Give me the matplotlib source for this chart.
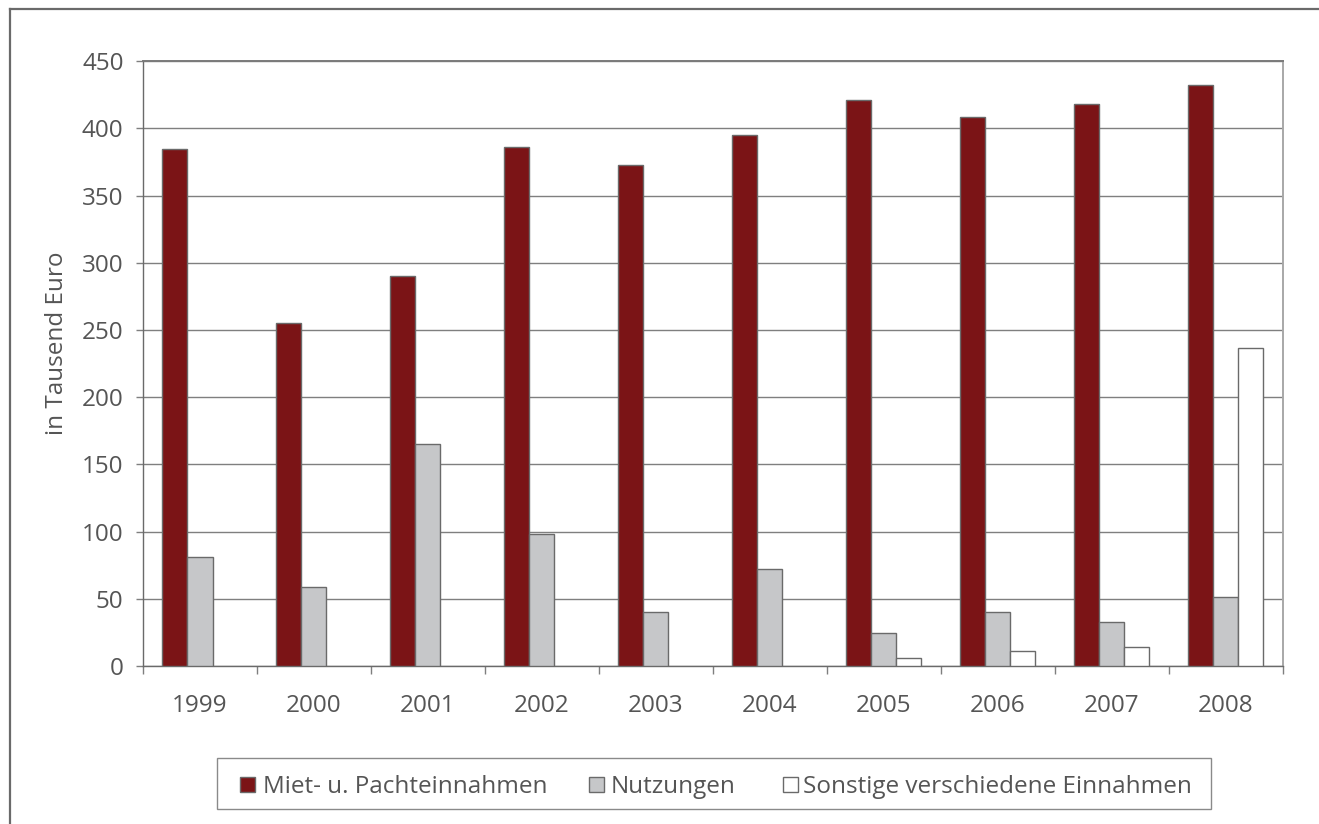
import matplotlib
matplotlib.use("Agg")
import matplotlib.pyplot as plt
import numpy as np
from matplotlib.lines import Line2D
from matplotlib.patches import Rectangle

years = ["1999", "2000", "2001", "2002", "2003", "2004", "2005", "2006", "2007", "2008"]
miet = [385, 255, 290.5, 386, 372.5, 395, 421.5, 408.5, 418.5, 432.5]
nutzungen = [81, 58.5, 165.5, 98, 40, 72, 24.5, 40.5, 32.5, 51]
sonstige = [0, 0, 0, 0, 0, 0, 5.7, 11, 14, 236.5]
series_names = ["Miet- u. Pachteinnahmen", "Nutzungen", "Sonstige verschiedene Einnahmen"]
yticks = [0, 50, 100, 150, 200, 250, 300, 350, 400, 450]

colors = ["#7B1416", "#C6C7C9", "#FFFFFF"]
edge = "#6a6a6a"
txt = "#555555"
FS = 17.5

plt.rcParams['font.family'] = ['Open Sans', 'DejaVu Sans']

W, H = 1319, 824
fig = plt.figure(figsize=(W / 100, H / 100), dpi=100)


def fx(px):
    return px / W


def fy(py):
    return 1 - py / H


ax = fig.add_axes([fx(143), fy(666), (1282.7 - 143) / W, (666 - 61.3) / H])

x = np.arange(len(years))
w = 0.22
for i, (vals, c) in enumerate(zip([miet, nutzungen, sonstige], colors)):
    v = np.array(vals, dtype=float)
    mask = v > 0
    ax.bar(x[mask] + (i - 1) * w, v[mask], width=w, color=c, edgecolor=edge,
           linewidth=1.0, zorder=3)

ax.set_xlim(-0.5, len(years) - 0.5)
ax.set_ylim(0, 450)
ax.set_yticks(yticks)
ax.set_yticklabels([str(t) for t in yticks])
ax.yaxis.grid(True, color="#7f7f7f", linewidth=1.0, zorder=0)
ax.set_axisbelow(True)

ax.set_xticks(x)
ax.set_xticklabels(years)
ax.set_xticks(np.arange(len(years) + 1) - 0.5, minor=True)
ax.tick_params(axis='x', which='major', length=0, pad=20, labelsize=FS, labelcolor=txt)
ax.tick_params(axis='x', which='minor', length=5.5, width=1, color="#7f7f7f", direction='out')
ax.tick_params(axis='y', which='major', length=5, width=1, color="#7f7f7f", pad=9,
               labelsize=FS, labelcolor=txt)

for s in ["left", "bottom"]:
    ax.spines[s].set_color("#6a6a6a")
    ax.spines[s].set_linewidth(1.0)
ax.spines["top"].set_color("#7a7a7a")
ax.spines["top"].set_linewidth(1.4)
ax.spines["right"].set_color("#a8a8a8")
ax.spines["right"].set_linewidth(1.4)

fig.text(fx(57), fy(343.5), "in Tausend Euro", rotation=90, ha='center', va='center',
         fontsize=FS, color=txt)

# legend (drawn manually to match the reference box)
fig.add_artist(Rectangle((fx(217), fy(809)), (1211 - 217) / W, (809 - 758) / H,
                         transform=fig.transFigure, facecolor='white',
                         edgecolor="#8a8a8a", linewidth=1.0))
marker_x = [240, 589, 783]
text_x = [263, 611, 803]
yc = 784
for name, c, mx, tx in zip(series_names, colors, marker_x, text_x):
    fig.add_artist(Rectangle((fx(mx), fy(yc + 7.5)), 15 / W, 15 / H,
                             transform=fig.transFigure, facecolor=c,
                             edgecolor=edge, linewidth=1.0))
    fig.text(fx(tx), fy(yc), name, ha='left', va='center_baseline', fontsize=FS, color=txt)

# outer frame (left and top)
fig.add_artist(Line2D([fx(9.5), fx(9.5)], [0, fy(8.5)], transform=fig.transFigure,
                      color="#6a6a6a", linewidth=1.6))
fig.add_artist(Line2D([fx(9.5), 1], [fy(8.5), fy(8.5)], transform=fig.transFigure,
                      color="#6a6a6a", linewidth=1.6))

fig.savefig("out.png", dpi=100)
